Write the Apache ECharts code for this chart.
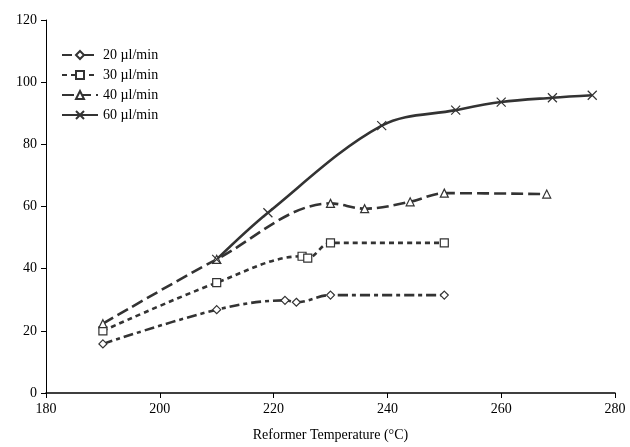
<!DOCTYPE html>
<html>
<head>
<meta charset="utf-8">
<script src="https://cdn.jsdelivr.net/npm/echarts@6/dist/echarts.min.js"></script>
<style>
  html, body { margin: 0; padding: 0; background: #fff; }
  #main { width: 630px; height: 447px; }
</style>
</head>
<body>
<div id="main"></div>
<script>
// data: [temperature, value]
var names = ["20 µl/min", "30 µl/min", "40 µl/min", "60 µl/min"];
var flow20 = [[190, 15.8], [210, 26.8], [222, 29.8], [224, 29.2], [230, 31.5], [250, 31.5]];
var flow30 = [[190, 20.0], [210, 35.5], [225, 44.0], [226, 43.4], [230, 48.3], [250, 48.3]];
var flow40 = [[190, 22.3], [210, 43.0], [230, 61.0], [236, 59.3], [244, 61.5], [250, 64.3], [268, 64.0]];
var flow60 = [[210, 43.0], [219, 58.0], [239, 86.0], [252, 91.0], [260, 93.6], [269, 95.0], [276, 95.8]];
var xTicks = [180, 200, 220, 240, 260, 280];
var yTicks = [0, 20, 40, 60, 80, 100, 120];

var ink = "#333";
var font = "Liberation Serif";
var crossPath = "path://M0,0L10,10M10,0L0,10";

function line(name, data, dash, symbol, size) {
  return {
    name: name,
    type: "line",
    data: data,
    smooth: 0.35,
    symbol: symbol,
    symbolSize: size,
    lineStyle: { color: ink, width: 2.6, type: dash },
    itemStyle: { color: "#fff", borderColor: ink, borderWidth: 1.2 }
  };
}

var myChart = echarts.init(document.getElementById("main"));
var option = {
  animation: false,
  textStyle: { fontFamily: font },
  grid: { left: 46, right: 15, top: 20, bottom: 48 },
  legend: {
    orient: "vertical",
    left: 56,
    top: 43,
    itemGap: 6,
    itemWidth: 36,
    itemHeight: 10,
    textStyle: { fontFamily: font, fontSize: 14, color: "#000" },
    data: names
  },
  xAxis: {
    type: "value",
    min: 180,
    max: 280,
    interval: 20,
    name: "Reformer Temperature (°C)",
    nameLocation: "middle",
    nameGap: 35,
    nameTextStyle: { fontFamily: font, fontSize: 14, color: "#000" },
    axisLine: { lineStyle: { color: "#000", width: 1.5 } },
    axisTick: { show: true, length: 5, lineStyle: { color: "#000" } },
    axisLabel: { fontFamily: font, fontSize: 14, color: "#000", margin: 9 },
    splitLine: { show: false }
  },
  yAxis: {
    type: "value",
    min: 0,
    max: 120,
    interval: 20,
    axisLine: { show: true, lineStyle: { color: "#000", width: 1 } },
    axisTick: { show: true, length: 5, lineStyle: { color: "#000" } },
    axisLabel: { fontFamily: font, fontSize: 14, color: "#000", margin: 9 },
    splitLine: { show: false }
  },
  series: [
    line(names[0], flow20, [10, 4, 4, 4], "diamond", 8),
    line(names[1], flow30, [5, 4], "rect", 8),
    line(names[2], flow40, [12, 5], "triangle", 8),
    line(names[3], flow60, "solid", crossPath, 9)
  ]
};
myChart.setOption(option);
</script>
</body>
</html>
